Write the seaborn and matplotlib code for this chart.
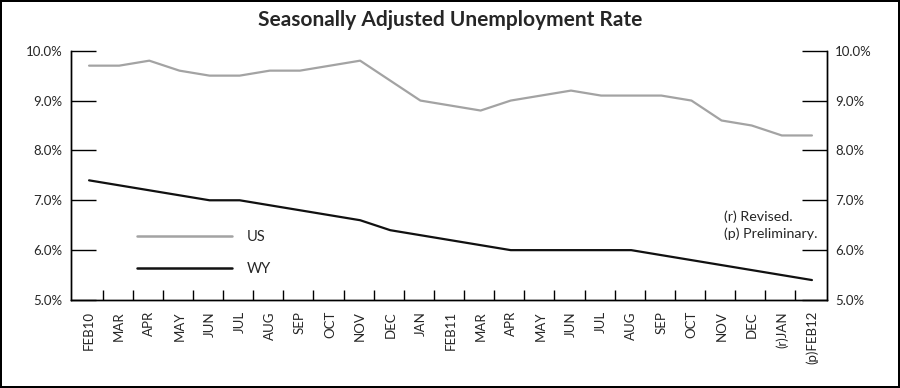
"""Seasonally adjusted unemployment rate, US vs WY"""
import matplotlib
matplotlib.use("Agg")
import matplotlib.pyplot as plt
import seaborn as sns
import pandas as pd

months = ["FEB10", "MAR", "APR", "MAY", "JUN", "JUL", "AUG", "SEP", "OCT", "NOV",
          "DEC", "JAN", "FEB11", "MAR", "APR", "MAY", "JUN", "JUL", "AUG", "SEP",
          "OCT", "NOV", "DEC", "(r)JAN", "(p)FEB12"]
us_rate = [9.7, 9.7, 9.8, 9.6, 9.5, 9.5, 9.6, 9.6, 9.7, 9.8,
           9.4, 9.0, 8.9, 8.8, 9.0, 9.1, 9.2, 9.1, 9.1, 9.1,
           9.0, 8.6, 8.5, 8.3, 8.3]
wy_rate = [7.4, 7.3, 7.2, 7.1, 7.0, 7.0, 6.9, 6.8, 6.7, 6.6,
           6.4, 6.3, 6.2, 6.1, 6.0, 6.0, 6.0, 6.0, 6.0, 5.9,
           5.8, 5.7, 5.6, 5.5, 5.4]
y_ticks = [5.0, 6.0, 7.0, 8.0, 9.0, 10.0]
notes = ["(r) Revised.", "(p) Preliminary."]

# long-form table for seaborn
df = pd.DataFrame({
    "pos": list(range(len(months))) * 2,
    "rate": us_rate + wy_rate,
    "series": ["US"] * len(months) + ["WY"] * len(months),
})

sns.set_theme(style="white")
plt.rcParams["font.family"] = ["Lato", "DejaVu Sans"]

fig = plt.figure(figsize=(9, 3.88), dpi=100, edgecolor="black", linewidth=1.6)
ax = fig.add_axes([71 / 900, 88 / 388, 756 / 900, 249.3 / 388])

sns.lineplot(data=df, x="pos", y="rate", hue="series",
             palette={"US": "#a3a3a3", "WY": "#111111"},
             linewidth=1.6, ax=ax)

ax.set_xlim(-0.6, len(months) - 0.5)
ax.set_ylim(5, 10)
ax.set_xlabel("")
ax.set_ylabel("")

# right axis mirrors the left
ax2 = ax.twinx()
ax2.set_ylim(5, 10)

# x axis: labels on months, small ticks between them
ax.set_xticks(range(len(months)))
ax.set_xticklabels(months, rotation=90, fontsize=9.5)
ax.set_xticks([i + 0.45 for i in range(len(months) - 1)], minor=True)
ax.tick_params(axis="x", which="major", length=0, pad=8)
ax.tick_params(axis="x", which="minor", direction="in", length=7, width=1,
               color="black", bottom=True)

for a, left in ((ax, True), (ax2, False)):
    a.set_yticks(y_ticks)
    a.set_yticklabels([f"{v:.1f}%" for v in y_ticks], fontsize=9.5)
    a.tick_params(axis="y", which="major", direction="in", length=18, width=1,
                  color="black", pad=6, left=left, right=not left)
    a.grid(False)
    a.spines["top"].set_visible(False)
    for side in ("left", "right", "bottom"):
        a.spines[side].set_color("black")
        a.spines[side].set_linewidth(1)

leg = ax.legend(loc="upper left", bbox_to_anchor=(0.07, 0.333), frameon=False,
                handlelength=6.5, handletextpad=1.0, labelspacing=1.2, fontsize=10.5)
for line in leg.get_lines():
    line.set_linewidth(1.8)

ax.text(0.864, 0.30, "\n".join(notes), transform=ax.transAxes,
        fontsize=10.3, va="center", ha="left", linespacing=1.35)

fig.suptitle("Seasonally Adjusted Unemployment Rate", fontsize=15,
             fontweight="bold", y=0.975)

plt.savefig("out.png", dpi=100)
plt.close()
